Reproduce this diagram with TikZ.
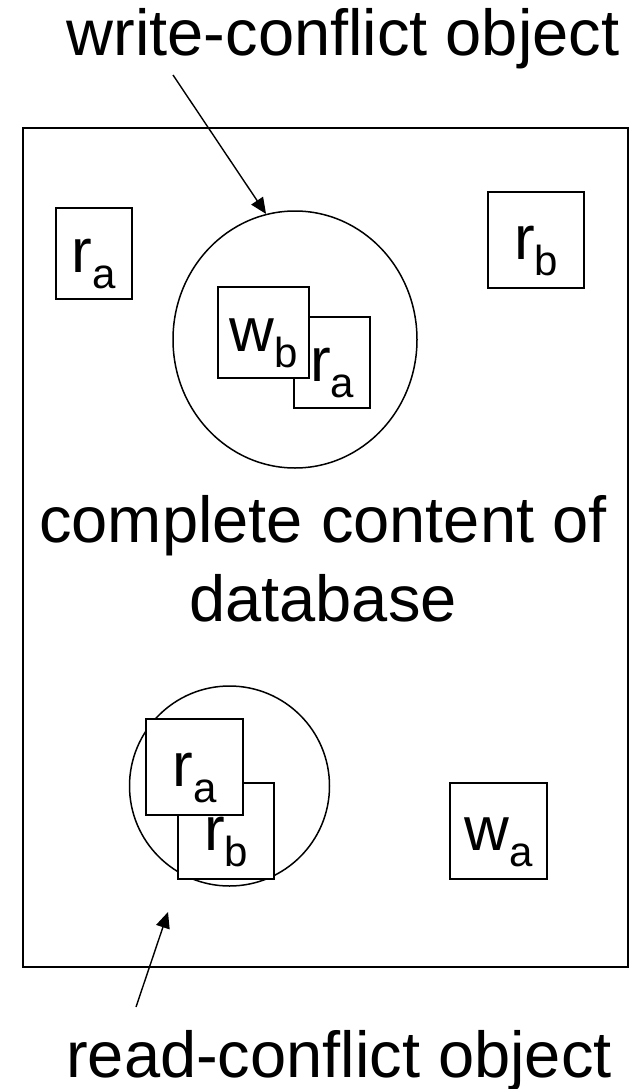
\documentclass[tikz,border=0pt]{standalone}
\usepackage{fontspec}
\setmainfont{Liberation Sans}
\usetikzlibrary{arrows.meta,shapes.geometric}

\newcommand{\bigtext}{\fontsize{65}{79}\selectfont}
\newcommand{\boxtext}{\fontsize{62}{62}\selectfont}
\newcommand{\subtext}[1]{\raisebox{-16pt}{\fontsize{42}{42}\selectfont #1}}

\tikzset{
  item/.style={draw, line width=1.6pt, fill=white, inner sep=0pt,
    text height=38pt, text depth=0pt, font=\boxtext},
  region/.style={draw, line width=1.5pt, inner sep=0pt},
  label/.style={inner sep=0pt, font=\bigtext, anchor=base},
  pointer/.style={line width=1.4pt, -{Triangle[length=16pt,width=14pt]}}
}

\begin{document}
\begin{tikzpicture}[x=1pt, y=-1pt]
  \useasboundingbox (0,0) rectangle (641,1089);

  % the database
  \node[draw, line width=2pt, minimum width=605pt, minimum height=839pt, inner sep=0pt]
    (db) at (325.5,547.5) {};
  % base anchor of a two-line node sits on the last line
  \node[label, align=center] (dbtext) at (323,621) {complete content of\\database};

  % write-conflict object
  \node[region, ellipse, minimum width=244pt, minimum height=257pt] (wc) at (295,339.5) {};
  \node[item, minimum width=76pt, minimum height=91pt] (wra) at (332,362.5) {r\subtext{a}};
  \node[item, minimum width=91pt, minimum height=91pt] (wwb) at (263.5,332.5) {w\subtext{b}};

  % read-conflict object
  \node[region, circle, minimum size=200pt] (rc) at (229.5,786) {};
  \node[item, minimum width=96pt, minimum height=96pt] (rrb) at (226,831) {r\subtext{b}};
  \node[item, minimum width=97pt, minimum height=96pt] (rra) at (194.5,767) {r\subtext{a}};

  % isolated accesses
  \node[item, minimum width=76pt, minimum height=91pt] (ra) at (94,253.5) {r\subtext{a}};
  \node[item, minimum width=96pt, minimum height=96pt] (rb) at (536,240) {r\subtext{b}};
  \node[item, minimum width=97pt, minimum height=96pt] (wa) at (498.5,831) {w\subtext{a}};

  % captions and pointers
  \node[label] (wctext) at (343,56) {write-conflict object};
  \node[label] (rctext) at (339,1077) {read-conflict object};

  \coordinate (wtail) at (173,75);
  \coordinate (rtail) at (136,1007);
  \coordinate (rtip) at (168,912);
  \draw[pointer] (wtail) -- (wc.103.5);
  \draw[pointer] (rtail) -- (rtip);
\end{tikzpicture}
\end{document}
